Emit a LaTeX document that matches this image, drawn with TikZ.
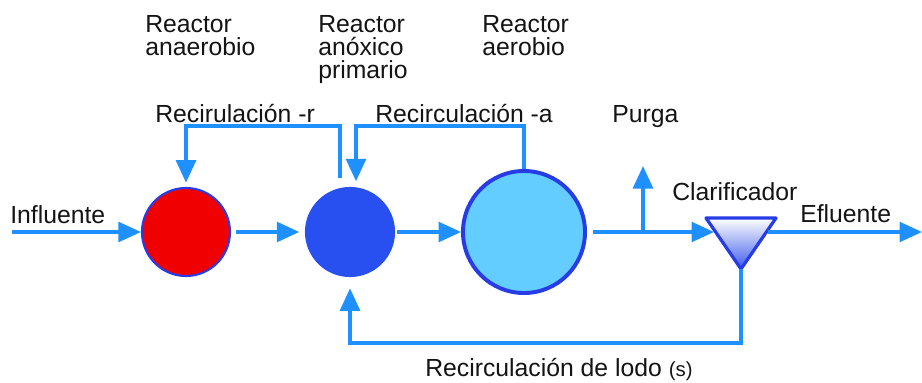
\documentclass[tikz,border=0pt]{standalone}
\usepackage{fontspec}
\setmainfont{Liberation Sans}
\usetikzlibrary{arrows.meta}

\definecolor{flowblue}{RGB}{30,144,255}
\definecolor{rimblue}{RGB}{40,60,230}
\definecolor{anared}{RGB}{240,0,0}
\definecolor{anoxblue}{RGB}{40,80,240}
\definecolor{aerblue}{RGB}{100,205,255}
\definecolor{clarblue}{RGB}{60,90,235}
\definecolor{txtgray}{RGB}{20,20,20}

\tikzset{
  reactor/.style={circle, inner sep=0pt},
  pipe/.style={draw=flowblue, line width=2.6pt},
  flow/.style={pipe, -{Triangle[length=16pt,width=14pt]}},
  lbl/.style={inner sep=0pt, text=txtgray, font=\fontsize{17.6}{16.3}\selectfont, anchor=base west},
}

\begin{document}
\begin{tikzpicture}[x=0.025cm,y=-0.025cm]
 \useasboundingbox (0,0) rectangle (922,382);
 % reactores
 \node[reactor, fill=anared, draw=rimblue, line width=1.5pt, minimum size=2.2cm] (ana) at (186,232) {};
 \node[reactor, fill=anoxblue, draw=anoxblue, line width=1.5pt, minimum size=2.2cm] (anox) at (350,232) {};
 \node[reactor, fill=aerblue, draw=rimblue, line width=2.8pt, minimum size=3.05cm] (aer) at (524,232) {};
 % clarificador
 \coordinate (clarL) at (706,218);
 \coordinate (clarR) at (776,218);
 \coordinate (clarB) at (741,269);
 \draw[rimblue, line width=2.3pt, line join=round, top color=white, bottom color=clarblue] (clarL) -- (clarR) -- (clarB) -- cycle;
 % puntos libres
 \coordinate (in) at (12,232);
 \coordinate (out) at (922,232);
 \coordinate (clarin) at (714,232);
 \coordinate (clarout) at (768,232);
 \coordinate (tee) at (643,232);
 \coordinate (purge) at (643,166);
 \coordinate (rstart) at (340,178);
 \coordinate (rtop) at (340,126);
 \coordinate (atop) at (356,126);
 \coordinate (sludge) at (741,343);
 % flujo principal
 \draw[flow] (in) -- (ana);
 \draw[flow, shorten <=3.5pt, shorten >=4pt] (ana) -- (anox);
 \draw[flow, shorten <=1.5pt] (anox) -- (aer);
 \draw[flow, shorten <=4pt] (aer) -- (clarin);
 \draw[flow] (tee) -- (purge);
 \draw[flow] (clarout) -- (out);
 % recirculaciones
 \draw[flow, shorten >=3pt] (rstart) -- (rtop) -| (ana);
 \draw[flow, shorten >=4pt] (aer.north) |- (atop) -- (atop |- anox.north);
 \draw[flow, shorten >=8pt] (clarB) -- (sludge) -| (anox);
 % textos
 \node[lbl, align=left, anchor=north west] (anatxt) at (145,15) {Reactor\\anaerobio};
 \node[lbl, align=left, anchor=north west] (anoxtxt) at (318,15) {Reactor\\anóxico\\primario};
 \node[lbl, align=left, anchor=north west] (aertxt) at (482,15) {Reactor\\aerobio};
 \node[lbl] (rtxt) at (155,122) {Recirulación -r};
 \node[lbl] (atxt) at (375,122) {Recirculación -a};
 \node[lbl] (purgetxt) at (612,122) {Purga};
 \node[lbl] (clartxt) at (672,200) {Clarificador};
 \node[lbl] (outtxt) at (800,222) {Efluente};
 \node[lbl] (intxt) at (10,223) {Influente};
 \node[lbl] (stxt) at (425,376) {Recirculación de lodo {\fontsize{14.5}{14.5}\selectfont (s)}};
\end{tikzpicture}
\end{document}
